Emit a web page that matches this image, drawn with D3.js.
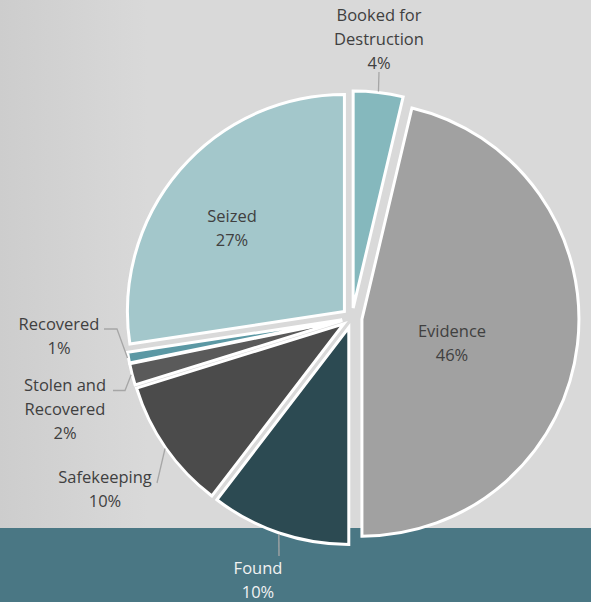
<!DOCTYPE html>
<html>
<head>
<meta charset="utf-8">
<script src="https://cdn.jsdelivr.net/npm/d3@7"></script>
<style>
body { margin:0; background:#d9d9d9; }
svg { display:block; }
text { font-family:"Open Sans", sans-serif; font-size:16.5px; fill:#404040; }
</style>
</head>
<body>
<div id="chart"></div>
<script>
// Chart size
const width = 591, height = 602;

// Data (shares; labels show them rounded)
const categories = ["Booked for Destruction", "Evidence", "Found", "Safekeeping", "Stolen and Recovered", "Recovered", "Seized"];
const values = [3.7, 46.3, 10.4, 9.8, 1.6, 0.8, 27.4];
const labelLines = [["Booked for", "Destruction"], ["Evidence"], ["Found"], ["Safekeeping"], ["Stolen and", "Recovered"], ["Recovered"], ["Seized"]];
const colors = ["#85b8bd", "#a1a1a1", "#2c4a52", "#4b4b4b", "#5a5a5a", "#5b98a4", "#a3c7cb"];

// Label layout: first line centre, and leader bend points (null = inside slice)
const labelLayout = [
  {x:379, y:15, leader:[[379, 72]]},
  {x:452, y:331, leader:null},
  {x:258, y:568, leader:[[279, 556]], light:true},
  {x:105, y:477, leader:[[157, 483]]},
  {x:65, y:385, leader:[[125, 390.5], [113, 390.5]]},
  {x:59, y:324, leader:[[117, 329], [104, 329]]},
  {x:232, y:216, leader:null}
];

const cx = 352, cy = 318, radius = 217, explode = 10, lineH = 24;

const svg = d3.select("#chart")
  .append("svg")
  .attr("width", width)
  .attr("height", height);

// Background
const grad = svg.append("defs").append("linearGradient")
  .attr("id", "bg").attr("x1", 0).attr("x2", 1).attr("y1", 0).attr("y2", 0);
grad.append("stop").attr("offset", "0%").attr("stop-color", "#cdcdcd");
grad.append("stop").attr("offset", "25%").attr("stop-color", "#d9d9d9");
grad.append("stop").attr("offset", "100%").attr("stop-color", "#d9d9d9");

svg.append("rect").attr("width", width).attr("height", height).attr("fill", "url(#bg)");
svg.append("rect").attr("y", 528).attr("width", width).attr("height", height - 528).attr("fill", "#4a7784");

const data = categories.map((c, i) => ({name:c, value:values[i], lines:labelLines[i], color:colors[i], layout:labelLayout[i]}));

const pie = d3.pie().value(d => d.value).sort(null);
const arc = d3.arc().innerRadius(0).outerRadius(radius);
const arcs = pie(data);
const total = d3.sum(values);

const mid = d => (d.startAngle + d.endAngle) / 2;
const offset = (d, r) => [Math.sin(mid(d)) * r, -Math.cos(mid(d)) * r];

const g = svg.append("g").attr("transform", `translate(${cx},${cy})`);

// Slices
g.selectAll("path.slice")
  .data(arcs)
  .enter()
  .append("path")
  .attr("class", "slice")
  .attr("transform", d => `translate(${offset(d, explode)})`)
  .attr("d", arc)
  .attr("fill", d => d.data.color)
  .attr("stroke", "#fff")
  .attr("stroke-width", 3)
  .attr("stroke-linejoin", "miter");

// Leader lines
arcs.filter(d => d.data.layout.leader).forEach(d => {
  const o = offset(d, explode + radius + 1);
  const pts = [[cx + o[0], cy + o[1]]].concat(d.data.layout.leader);
  svg.append("path")
    .attr("d", d3.line()(pts))
    .attr("fill", "none")
    .attr("stroke", "#a6a6a6")
    .attr("stroke-width", 1.3);
});

// Labels
arcs.forEach(d => {
  const L = d.data.layout;
  const lines = d.data.lines.concat([Math.round(d.value / total * 100) + "%"]);
  const t = svg.append("text")
    .attr("text-anchor", "middle")
    .style("fill", L.light ? "#f2f2f2" : "#404040");
  lines.forEach((s, i) => {
    t.append("tspan")
      .attr("x", L.x)
      .attr("y", L.y + i * lineH)
      .attr("dy", "0.35em")
      .text(s);
  });
});
</script>
</body>
</html>
